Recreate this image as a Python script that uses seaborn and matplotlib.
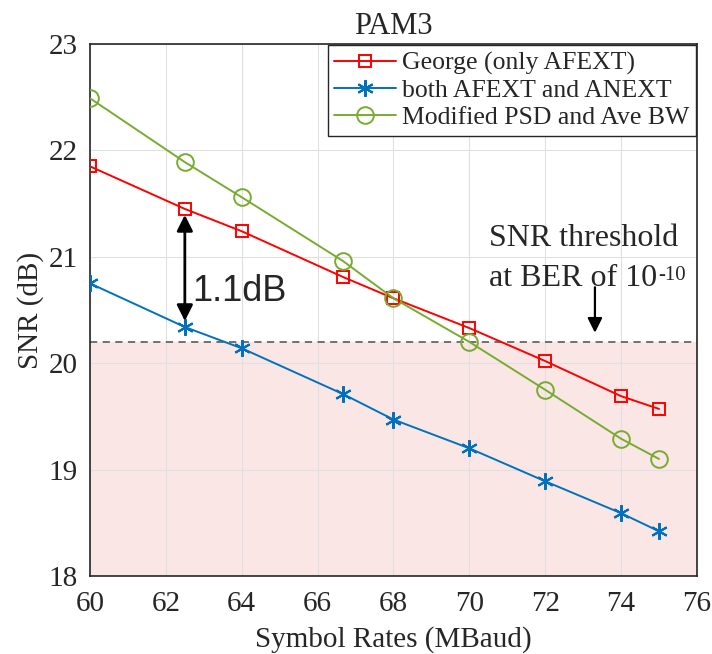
import numpy as np
import pandas as pd
import matplotlib.pyplot as plt
import seaborn as sns
from matplotlib.lines import Line2D

# Data
rates = [60, 62.5, 64, 66.67, 68, 70, 72, 74, 75]
snr_george = [21.85, 21.45, 21.24, 20.81, 20.61, 20.33, 20.02, 19.69, 19.57]
snr_both = [20.75, 20.34, 20.14, 19.71, 19.47, 19.20, 18.89, 18.59, 18.42]
snr_modified = [22.49, 21.89, 21.56, 20.96, 20.61, 20.20, 19.75, 19.29, 19.10]
labels = ['George (only AFEXT)', 'both AFEXT and ANEXT', 'Modified PSD and Ave BW']
threshold = 20.2

df = pd.DataFrame({
    'rate': rates * 3,
    'snr': snr_george + snr_both + snr_modified,
    'series': [labels[0]] * 9 + [labels[1]] * 9 + [labels[2]] * 9,
})

sns.set_style('white')
plt.rcParams['font.family'] = ['Liberation Serif', 'DejaVu Serif']

fig = plt.figure(figsize=(7.12, 6.54), dpi=100)
ax = fig.add_axes([0.1264, 0.1193, 0.8525, 0.8134])

# shaded region below threshold
ax.axhspan(18, threshold, color='#fbe6e6', zorder=0)
ax.axhline(threshold, color='#666666', ls=(0, (4, 3)), lw=1.3, zorder=1)

colors = {labels[0]: '#ff0000', labels[1]: '#0072bd', labels[2]: '#77ac30'}
for lab in labels:
    sub = df[df['series'] == lab]
    sns.lineplot(data=sub, x='rate', y='snr', ax=ax, color=colors[lab], lw=1.4,
                 legend=False, zorder=3)
    if lab == labels[1]:
        ax.plot(sub['rate'], sub['snr'], ls='none', marker=(6, 2, 0), ms=12,
                mec=colors[lab], mew=1.5, zorder=4)
    elif lab == labels[0]:
        ax.plot(sub['rate'], sub['snr'], ls='none', marker='s', ms=9, mfc='none',
                mec=colors[lab], mew=1.4, zorder=4)
    else:
        ax.plot(sub['rate'], sub['snr'], ls='none', marker='o', ms=12, mfc='none',
                mec=colors[lab], mew=1.4, zorder=4)

ax.set_xlim(60, 76)
ax.set_ylim(18, 23)
ax.set_xticks(np.arange(60, 77, 2))
ax.set_yticks(np.arange(18, 24, 1))
ax.grid(True, color='#e0e0e0', lw=0.8)
ax.set_axisbelow(True)
ax.tick_params(direction='in', length=6, labelsize=21, width=1, color='#333333',
               labelcolor='#262626')
ax.tick_params(axis='x', pad=11)
ax.tick_params(axis='y', pad=9)
for s in ax.spines.values():
    s.set_color('#262626')
    s.set_linewidth(1.2)

ax.set_xlabel('Symbol Rates (MBaud)', fontsize=21, color='#262626', labelpad=6)
ax.set_ylabel('SNR (dB)', fontsize=21, color='#262626', labelpad=3)
ax.set_title('PAM3', fontsize=22, pad=7)

# legend with marker handles
handles = [
    Line2D([], [], color=colors[labels[0]], marker='s', ms=9, mfc='none', lw=1.4, mew=1.4),
    Line2D([], [], color=colors[labels[1]], marker=(6, 2, 0), ms=12, lw=1.4, mew=1.5),
    Line2D([], [], color=colors[labels[2]], marker='o', ms=12, mfc='none', lw=1.4, mew=1.4),
]
leg = ax.legend(handles, labels, loc='upper right', fontsize=18.5, frameon=True,
                fancybox=False, edgecolor='#262626', framealpha=1,
                borderaxespad=0.05, handlelength=2.4, labelspacing=0.16,
                borderpad=0.25, handletextpad=0.25)
leg.get_frame().set_linewidth(1)

# 1.1 dB gap arrow
ax.annotate('', xy=(62.5, snr_george[1] - 0.03), xytext=(62.5, snr_both[1] + 0.03),
            arrowprops=dict(arrowstyle='<|-|>', color='black', lw=2, mutation_scale=24),
            zorder=5)
ax.text(62.7, 20.67, '1.1dB', fontsize=26, family='Liberation Sans', va='center', ha='left')

# threshold annotation
ax.text(70.52, 21.17, 'SNR threshold', fontsize=23, ha='left', va='center')
t2 = ax.text(70.52, 20.80, 'at BER of 10', fontsize=23, ha='left', va='center')
ax.annotate('-10', xy=(1, 1), xycoords=t2, xytext=(0.5, -1.5), textcoords='offset points',
            fontsize=15, ha='left', va='top')
ax.annotate('', xy=(73.31, threshold + 0.06), xytext=(73.31, 20.74),
            arrowprops=dict(arrowstyle='-|>', color='black', lw=1.6, mutation_scale=22))

fig.savefig('out.png', dpi=100)
